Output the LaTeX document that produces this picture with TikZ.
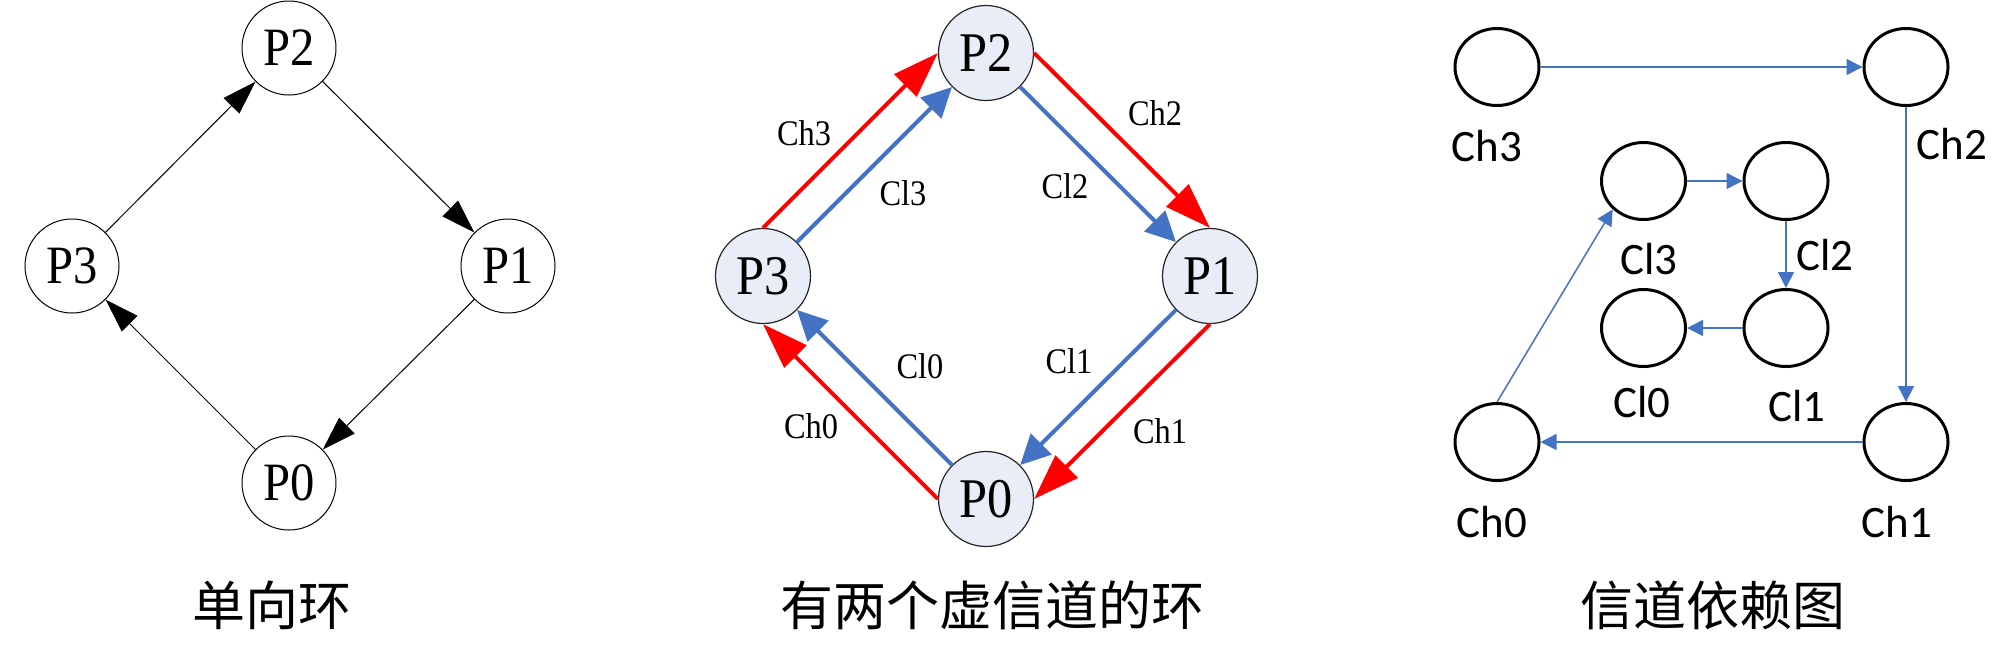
\documentclass[tikz,border=0pt]{standalone}
\usepackage{fontspec}
\setmainfont{Liberation Serif}
\newfontfamily\pfont[FakeStretch=0.9]{Liberation Serif}
\newfontfamily\calib{Carlito}
\newfontfamily\cjk{Noto Sans CJK SC}
\usetikzlibrary{arrows.meta,shapes.geometric}
\definecolor{myred}{RGB}{255,0,0}
\definecolor{myblue}{RGB}{68,114,196}
\definecolor{nodefill}{RGB}{233,237,247}
\begin{document}
\begin{tikzpicture}[x=0.5pt,y=-0.5pt,
  pnodeA/.style={circle,draw=black,line width=0.5pt,minimum size=47pt,inner sep=0pt,font=\pfont\fontsize{27pt}{27pt}\selectfont},
  pnodeB/.style={circle,draw=black!85,fill=nodefill,line width=0.6pt,minimum size=47.5pt,inner sep=0pt,font=\pfont\fontsize{28pt}{28pt}\selectfont},
  chnode/.style={ellipse,draw=black,line width=1.5pt,minimum width=42pt,minimum height=38.5pt,inner sep=0pt},
  lblB/.style={inner sep=0pt,font=\pfont\fontsize{18pt}{18pt}\selectfont},
  lblC/.style={inner sep=0pt,font=\calib\fontsize{22.5pt}{22.5pt}\selectfont},
  capt/.style={inner sep=0pt,font=\cjk\fontsize{26.5pt}{26.5pt}\selectfont},
  arrA/.style={-{Triangle[length=17pt,width=11pt]},line width=0.5pt,draw=black},
  arrR/.style={-{Triangle[length=23pt,width=15.5pt]},line width=2pt,draw=myred},
  arrB/.style={-{Triangle[length=15pt,width=14.5pt]},line width=2pt,draw=myblue},
  arrC/.style={-{Triangle[length=8pt,width=8pt]},line width=0.75pt,draw=myblue}
]
\useasboundingbox (0,0) rectangle (2008,644);

% ---------- left: single ring ----------
\node[pnodeA] (P2A) at (289,48)  {P2};
\node[pnodeA] (P3A) at (72,266)  {P3};
\node[pnodeA] (P1A) at (508,266) {P1};
\node[pnodeA] (P0A) at (289,483) {P0};
\draw[arrA] (P3A) -- (P2A);
\draw[arrA] (P2A) -- (P1A);
\draw[arrA] (P1A) -- (P0A);
\draw[arrA] (P0A) -- (P3A);
\node[capt] (capA) at (272,605) {单向环};

% ---------- middle: ring with two virtual channels ----------
\node[pnodeB] (P2B) at (986,53)   {P2};
\node[pnodeB] (P3B) at (763,276)  {P3};
\node[pnodeB] (P1B) at (1210,276) {P1};
\node[pnodeB] (P0B) at (986,499)  {P0};
\draw[arrR] (P3B.north) -- (P2B.west);
\draw[arrR] (P2B.east)  -- (P1B.north);
\draw[arrR] (P1B.south) -- (P0B.east);
\draw[arrR] (P0B.west)  -- (P3B.south);
\draw[arrB] (P3B) -- (P2B);
\draw[arrB] (P2B) -- (P1B);
\draw[arrB] (P1B) -- (P0B);
\draw[arrB] (P0B) -- (P3B);
\node[lblB] (tCh3) at (804,133)  {Ch3};
\node[lblB] (tCl3) at (903,193)  {Cl3};
\node[lblB] (tCh2) at (1155,113) {Ch2};
\node[lblB] (tCl2) at (1065,186) {Cl2};
\node[lblB] (tCl1) at (1069,361) {Cl1};
\node[lblB] (tCh1) at (1160,431) {Ch1};
\node[lblB] (tCl0) at (920,366)  {Cl0};
\node[lblB] (tCh0) at (811,426)  {Ch0};
\node[capt] (capB) at (992,605) {有两个虚信道的环};

% ---------- right: channel dependency graph ----------
\node[chnode] (Ch3) at (1497,67)  {};
\node[chnode] (Ch2) at (1906,67)  {};
\node[chnode] (Ch1) at (1906,442) {};
\node[chnode] (Ch0) at (1497,442) {};
\node[chnode] (Cl3) at (1643.5,181) {};
\node[chnode] (Cl2) at (1786,181)   {};
\node[chnode] (Cl1) at (1786,328)   {};
\node[chnode] (Cl0) at (1643.5,328) {};
\draw[arrC] (Ch3.east) -- (Ch2.west);
\draw[arrC] (Ch2.south) -- (Ch1.north);
\draw[arrC] (Ch1.west) -- (Ch0.east);
\draw[arrC] (Ch0.north) -- (Cl3.south west);
\draw[arrC] (Cl3.east) -- (Cl2.west);
\draw[arrC] (Cl2.south) -- (Cl1.north);
\draw[arrC] (Cl1.west) -- (Cl0.east);
\node[lblC] (lCh3) at (1487,146) {Ch3};
\node[lblC] (lCh2) at (1952,144) {Ch2};
\node[lblC] (lCl3) at (1649,259) {Cl3};
\node[lblC] (lCl2) at (1825,255) {Cl2};
\node[lblC] (lCl0) at (1642,402) {Cl0};
\node[lblC] (lCl1) at (1797,406) {Cl1};
\node[lblC] (lCh0) at (1492,522) {Ch0};
\node[lblC] (lCh1) at (1897,522) {Ch1};
\node[capt] (capC) at (1713,605) {信道依赖图};
\end{tikzpicture}
\end{document}
